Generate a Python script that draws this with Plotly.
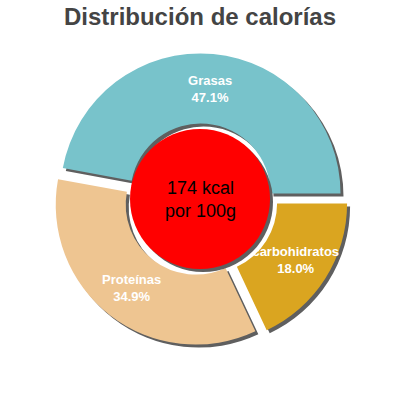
import plotly.graph_objects as go

labels = ["Grasas", "Proteínas", "carbohidratos"]
values = [47.1, 34.9, 18.0]
colors = ["#78c3cb", "#eec591", "#daa520"]
pulls = [0.04, 0.05, 0.06]
center_text = "174 kcal<br>por 100g"

# pie geometry in pixels (margins are 0, so paper = 400x400)
cx, cy, r = 200, 199, 140
maxpull = max(pulls)
half = r * (1 + maxpull)
inner = 70
shadow = 3

# plotly puts the end of the first slice at `rotation` when counterclockwise,
# so shift it to make "Grasas" start at 3 o'clock
rot = 90 - 360 * values[0] / sum(values)


def dom(x, y, h):
    return dict(x=[(x - h) / 400, (x + h) / 400],
                y=[(400 - y - h) / 400, (400 - y + h) / 400])


fig = go.Figure()

# shadow of the ring
fig.add_trace(go.Pie(
    labels=labels, values=values, sort=False, direction="counterclockwise",
    rotation=rot, pull=pulls, hole=0.5, textinfo="none", hoverinfo="skip",
    marker=dict(colors=["#5f5f5f"] * 3, line=dict(width=0)),
    domain=dom(cx + shadow, cy + shadow, half), showlegend=False,
))

# the ring itself
fig.add_trace(go.Pie(
    labels=labels, values=values, sort=False, direction="counterclockwise",
    rotation=rot, pull=pulls, hole=0.5,
    texttemplate="<b>%{label}</b><br><b>%{percent:.1%}</b>", textposition="inside",
    insidetextorientation="horizontal",
    insidetextfont=dict(color="white", size=13, family="Liberation Sans"),
    marker=dict(colors=colors, line=dict(width=0)),
    domain=dom(cx, cy, half), showlegend=False,
))

# shadow of the center disc
fig.add_trace(go.Pie(
    values=[1], sort=False, textinfo="none", hoverinfo="skip",
    marker=dict(colors=["#5f5f5f"], line=dict(width=0)),
    domain=dom(cx + shadow, cy + shadow, inner), showlegend=False,
))

# red center disc
fig.add_trace(go.Pie(
    values=[1], sort=False, textinfo="none",
    marker=dict(colors=["#ff0000"], line=dict(width=0)),
    domain=dom(cx, cy, inner), showlegend=False,
))

fig.add_annotation(
    text=center_text, x=cx / 400, y=(400 - cy) / 400, xref="paper", yref="paper",
    showarrow=False, align="center",
    font=dict(color="black", size=18, family="Liberation Sans"),
)

fig.update_layout(
    width=400, height=400,
    margin=dict(l=0, r=0, t=0, b=0),
    paper_bgcolor="white", plot_bgcolor="white",
    uniformtext=dict(minsize=13, mode="show"),
    title=dict(text="<b>Distribución de calorías</b>", x=0.5, xanchor="center",
               y=1 - 17 / 400, yanchor="middle",
               font=dict(size=24, color="#444444", family="Liberation Sans")),
)

# drop the browser's default 8px body margin so the figure sits at (0, 0)
fig.write_html("out.html", config={"displayModeBar": False},
               post_script="document.body.style.margin='0';")
